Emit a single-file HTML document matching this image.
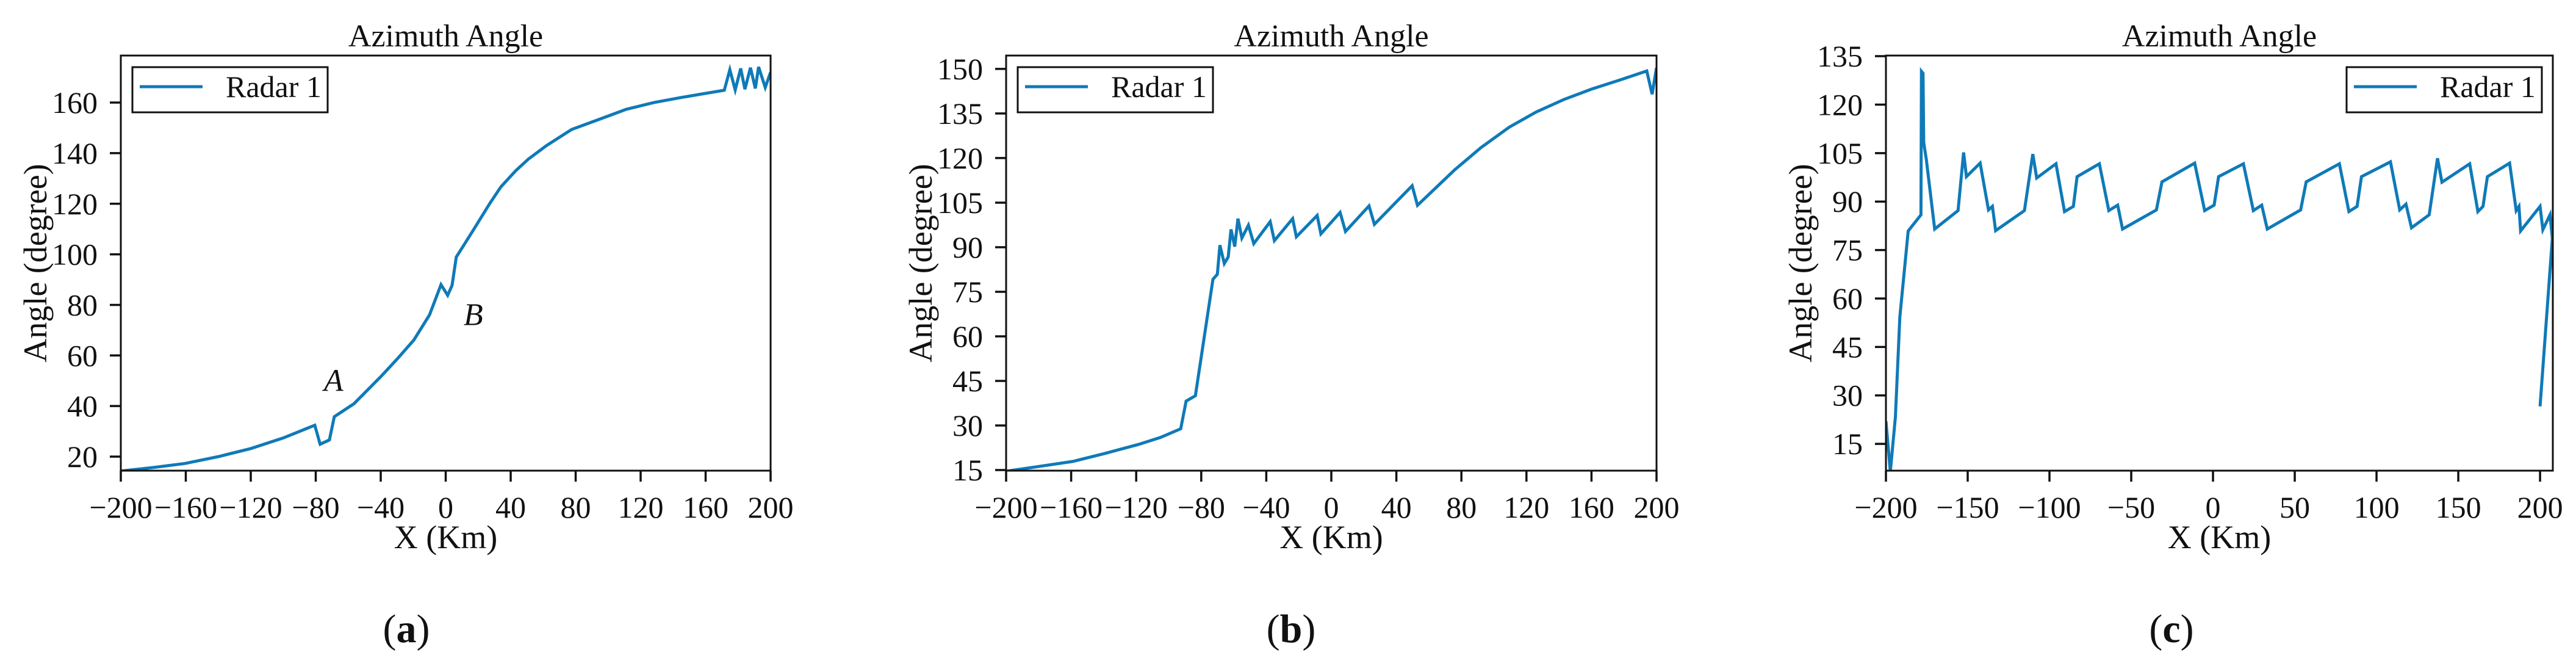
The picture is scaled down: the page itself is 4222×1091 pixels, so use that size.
<!DOCTYPE html>
<html><head><meta charset="utf-8"><style>
html,body{margin:0;padding:0;background:#fff;}
svg{display:block;font-family:"Liberation Serif",serif;}
</style></head><body>
<svg id="fig" width="4222" height="1091" viewBox="0 0 4222 1091" xmlns="http://www.w3.org/2000/svg"></svg>
<script>
// Panel (a)
const aX = [-200,-180,-160.4,-140,-120,-100,-80.6,-77.3,-71.6,-68.6,-56.5,-39.7,-30,-19.6,-10,-2.9,1.2,3.9,6.5,17.3,27,34,43,50.8,62,77.6,95,111,128,144.7,171.5,174.9,178.2,181.6,184.2,187.6,190.6,192.6,196.7,200];
const aY = [14.3,15.7,17.3,20,23.2,27.4,32.4,24.9,26.6,35.8,40.9,51.8,58.5,66.1,76,88,83.8,87.7,98.9,109.9,120,126.7,133,137.6,143,149.4,153.5,157.3,160,162,164.9,173,165,173.5,165.3,173.8,165.6,174.1,166,172];
const aXTicks = [-200,-160,-120,-80,-40,0,40,80,120,160,200];
const aYTicks = [20,40,60,80,100,120,140,160];
// Panel (b)
const bX = [-200,-180,-159,-140,-118.8,-105,-92.6,-89.3,-83.6,-72.8,-70.1,-68.5,-65.8,-63.4,-61.7,-59.4,-57.4,-55,-51,-47.7,-37.6,-35,-23.8,-21.5,-8.7,-6.4,5.4,8.7,23.2,26.5,49.7,53,75.8,92,109.4,126,143,160,176.5,194,197.3,200];
const bY = [14.6,16.2,17.9,20.5,23.6,26,28.9,38.2,40,79.2,80.9,90.7,84.5,86.7,96,90.2,99.6,93.1,97.4,91.2,98.6,92.2,99.6,93.5,100.7,94.5,101.7,95.3,103.9,97.7,110.7,104.1,116,123.5,130.4,135.5,139.7,143.2,146.1,149.3,141.5,150.4];
const bXTicks = [-200,-160,-120,-80,-40,0,40,80,120,160,200];
const bYTicks = [15,30,45,60,75,90,105,120,135,150];
// Panel (c)
const cX = [-200,-197.3,-194.2,-191.5,-186.4,-178.6,-178.3,-177.3,-176.9,-175.3,-170.2,-155.9,-152.5,-150.8,-142.4,-137.3,-134.9,-132.9,-115.3,-110.2,-107.8,-96,-90.8,-85.4,-83.1,-69.5,-63.7,-58.3,-55.3,-34.6,-31.2,-11.2,-5.1,0.7,3.4,18.6,24.7,29.8,33.2,53.6,57,77.3,83.1,88.1,90.8,108.5,114.2,118,121.4,132.2,137.3,140,157,162,165.1,167.8,181.4,185.4,187.1,188.1,200,201.7,206.1,207.5,200];
const cY = [22,6.4,23.3,54.3,80.9,85.9,130.3,129.7,108.3,103,81.5,87.2,105.2,97.7,101.9,87.4,88.5,81,87.2,104.7,97.3,101.7,86.9,88.5,97.7,101.7,87.2,88.9,81.5,87.4,96.1,101.9,87.2,88.9,97.7,101.7,87.2,88.9,81.5,87.4,96.1,101.7,86.9,88.5,97.7,102.3,87.4,89.2,81.9,85.9,103.4,96,101.7,86.9,88.5,97.7,101.9,87.2,88.5,80.9,88.5,81.3,85.9,78.6,26.6];
const cXTicks = [-200,-150,-100,-50,0,50,100,150,200];
const cYTicks = [15,30,45,60,75,90,105,120,135];

const NS = "http://www.w3.org/2000/svg";
const svg = document.getElementById('fig');
function mk(tag, attrs, parent){
  const e = document.createElementNS(NS, tag);
  for (const k in attrs) e.setAttribute(k, attrs[k]);
  (parent||svg).appendChild(e);
  return e;
}
function fmt(v){ return v < 0 ? '\u2212' + Math.abs(v) : String(v); }

function panel(cfg){
  const g = mk('g', {});
  
  
  const L = cfg.L, R = cfg.R, T = 91, B = 771;
  const sx = v => L + (v - cfg.xmin) / (cfg.xmax - cfg.xmin) * (R - L);
  const sy = v => B - (v - cfg.ymin) / (cfg.ymax - cfg.ymin) * (B - T);
  const cx = (L + R) / 2;
  const clipId = 'clip-' + cfg.id;
  const cp = mk('clipPath', {id: clipId}, g);
  mk('rect', {x: L, y: T, width: R - L, height: B - T}, cp);
  const pts = cfg.xs.map((x, i) => sx(x).toFixed(1) + ',' + sy(cfg.ys[i]).toFixed(1)).join(' ');
  const line = mk('polyline', {points: pts, fill: 'none', stroke: '#0f7ab8', 'stroke-width': 5, 'stroke-linejoin': 'miter', 'clip-path': 'url(#' + clipId + ')'}, g);
  
  
  const fr = mk('rect', {x: L, y: T, width: R - L, height: B - T, fill: 'none', stroke: '#111', 'stroke-width': 3}, g);
  
  
  cfg.xt.forEach(v => {
    const x = sx(v);
    mk('line', {x1: x, y1: B, x2: x, y2: B + 18, stroke: '#111', 'stroke-width': 3.5}, g);
    const t = mk('text', {x: x, y: 848, 'font-size': 50, 'text-anchor': 'middle', fill: '#111'}, g);
    t.textContent = fmt(v);
    
    
  });
  cfg.yt.forEach(v => {
    const y = sy(v);
    mk('line', {x1: L - 18, y1: y, x2: L, y2: y, stroke: '#111', 'stroke-width': 3.5}, g);
    const t = mk('text', {x: L - 38, y: y + 17, 'font-size': 50, 'text-anchor': 'end', fill: '#111'}, g);
    t.textContent = fmt(v);
    
    
  });
  const title = mk('text', {x: cx, y: 76, 'font-size': 52, 'text-anchor': 'middle', fill: '#111'}, g);
  title.textContent = 'Azimuth Angle';
  
  
  const xl = mk('text', {x: cx, y: 898, 'font-size': 54, 'text-anchor': 'middle', fill: '#111'}, g);
  xl.textContent = 'X (Km)';
  
  
  const yl = mk('text', {x: 0, y: 0, 'font-size': 54, 'text-anchor': 'middle', fill: '#111', transform: 'translate(' + (L - 122) + ',' + ((T + B) / 2) + ') rotate(-90)'}, g);
  yl.textContent = 'Angle (degree)';
  
  
  const lg = mk('g', {}, g);
  
  
  mk('rect', {x: cfg.lgx, y: 110, width: 320, height: 74, fill: '#fff', stroke: '#111', 'stroke-width': 3}, lg);
  mk('line', {x1: cfg.lgx + 12, y1: 142, x2: cfg.lgx + 115, y2: 142, stroke: '#0f7ab8', 'stroke-width': 5}, lg);
  const lt = mk('text', {x: cfg.lgx + 153, y: 159, 'font-size': 50, fill: '#111'}, lg);
  lt.textContent = 'Radar 1';
  
  
  const sub = mk('text', {x: cfg.subx, y: 1052, 'font-size': 66, 'text-anchor': 'middle', fill: '#111'}, g);
  sub.innerHTML = '(<tspan font-weight="bold">' + cfg.id + '</tspan>)';
  
  
  if (cfg.notes) cfg.notes.forEach(n => {
    const t = mk('text', {x: sx(n.x), y: sy(n.y), 'font-size': 52, 'font-style': 'italic', 'text-anchor': 'middle', fill: '#111'}, g);
    t.textContent = n.t;
    
    
  });
}
panel({id:'a', L:198, R:1263, xmin:-200, xmax:200, ymin:14.45, ymax:178.6, xs:aX, ys:aY, xt:aXTicks, yt:aYTicks, lgx:217, subx:666,
  notes:[{x:-69, y:46, t:'A'}, {x:17, y:72, t:'B'}]});
panel({id:'b', L:1649, R:2715, xmin:-200, xmax:200, ymin:14.8, ymax:154.5, xs:bX, ys:bY, xt:bXTicks, yt:bYTicks, lgx:1668, subx:2116});
panel({id:'c', L:3091, R:4184, xmin:-200, xmax:207.8, ymin:6.7, ymax:135.2, xs:cX, ys:cY, xt:cXTicks, yt:cYTicks, lgx:3846, subx:3559});
</script>
</body></html>
